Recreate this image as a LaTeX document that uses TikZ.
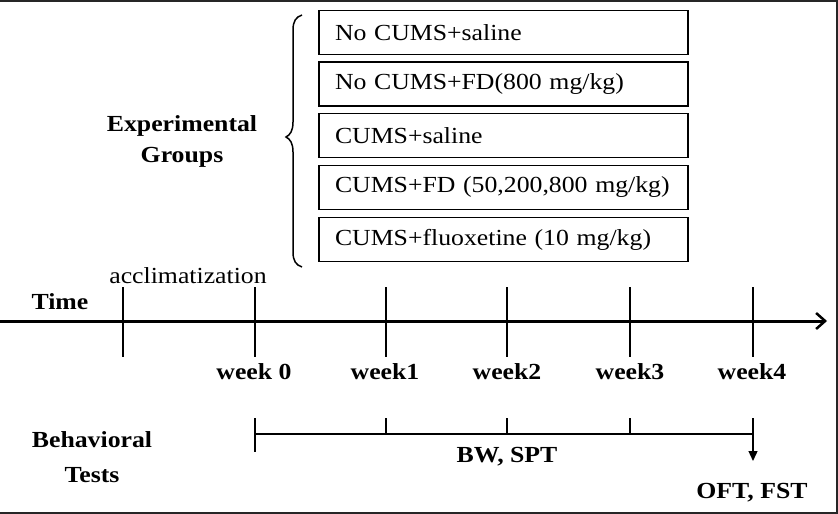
\documentclass[tikz,border=0pt]{standalone}
\usepackage{fontspec}
\setmainfont{Liberation Serif}[FakeStretch=1.12]
\usetikzlibrary{arrows.meta}
\begin{document}
\begin{tikzpicture}[x=1pt,y=-1pt,
  grp/.style={draw, line width=1.8pt, minimum width=369pt, minimum height=44pt,
    text width=337pt, inner xsep=16pt, align=left, anchor=center,
    font=\fontsize{23}{27}\selectfont},
  lbl/.style={anchor=base, inner sep=0pt, font=\fontsize{23}{27}\selectfont},
  blbl/.style={lbl, font=\fontsize{23}{27}\selectfont\bfseries},
  tick/.style={line width=1.8pt},
  btick/.style={line width=1.3pt}]
\useasboundingbox (0,0) rectangle (838,514);
% frame
\draw[line width=2.2pt, black!85] (0,1) -- (837,1) -- (837,513) -- (0,513);
% groups
\node[grp] (g1) at (503.5,32.5) {No CUMS+saline};
\node[grp] (g2) at (503.5,84) {No CUMS+FD(800 mg/kg)};
\node[grp] (g3) at (503.5,135.5) {CUMS+saline};
\node[grp] (g4) at (503.5,187.5) {CUMS+FD (50,200,800 mg/kg)};
\node[grp] (g5) at (503.5,239.5) {CUMS+fluoxetine (10 mg/kg)};
% brace
\draw[line width=1.5pt] (302,15) .. controls (296,17) and (293,21) .. (293,30)
  -- (293,122) .. controls (293,131) and (290,135) .. (286,137)
  .. controls (290,139) and (293,143) .. (293,152)
  -- (293,252) .. controls (293,261) and (296,265) .. (302,267);
\node[blbl] (exp1) at (182,131) {Experimental};
\node[blbl] (exp2) at (182,162) {Groups};
% time axis
\coordinate (axL) at (0,321);
\coordinate (axR) at (827,321);
\draw[line width=3pt, -{Straight Barb[length=9pt,width=16pt,line width=2.5pt]}] (axL) -- (axR);
\node[blbl] (time) at (60,309) {Time};
\node[lbl] (accl) at (188,283) {acclimatization};
\foreach \n/\x in {a/123,w0/255,w1/386,w2/507,w3/630,w4/753}{
  \coordinate (\n t) at (\x,287);
  \coordinate (\n b) at (\x,357);
  \draw[tick] (\n t) -- (\n b);
}
\node[blbl] (lw0) at (254,379) {week 0};
\node[blbl] (lw1) at (385,379) {week1};
\node[blbl] (lw2) at (507,379) {week2};
\node[blbl] (lw3) at (630,379) {week3};
\node[blbl] (lw4) at (752,379) {week4};
% behavioral tests
\node[blbl] (beh1) at (92,447) {Behavioral};
\node[blbl] (beh2) at (92,482) {Tests};
\coordinate (b0) at (255,434);
\coordinate (b4) at (753,434);
\draw[btick] (b0) -- (b4);
\draw[btick] (255,418) -- (255,452);
\foreach \x in {386,507,630}{ \draw[btick] (\x,418) -- (\x,434); }
\coordinate (b4t) at (753,418);
\coordinate (b4e) at (753,461);
\draw[btick, -{Triangle[length=10pt,width=9pt]}] (b4t) -- (b4e);
\node[blbl] (bw) at (507,462) {BW, SPT};
\node[blbl] (oft) at (752,498) {OFT, FST};
\end{tikzpicture}
\end{document}
